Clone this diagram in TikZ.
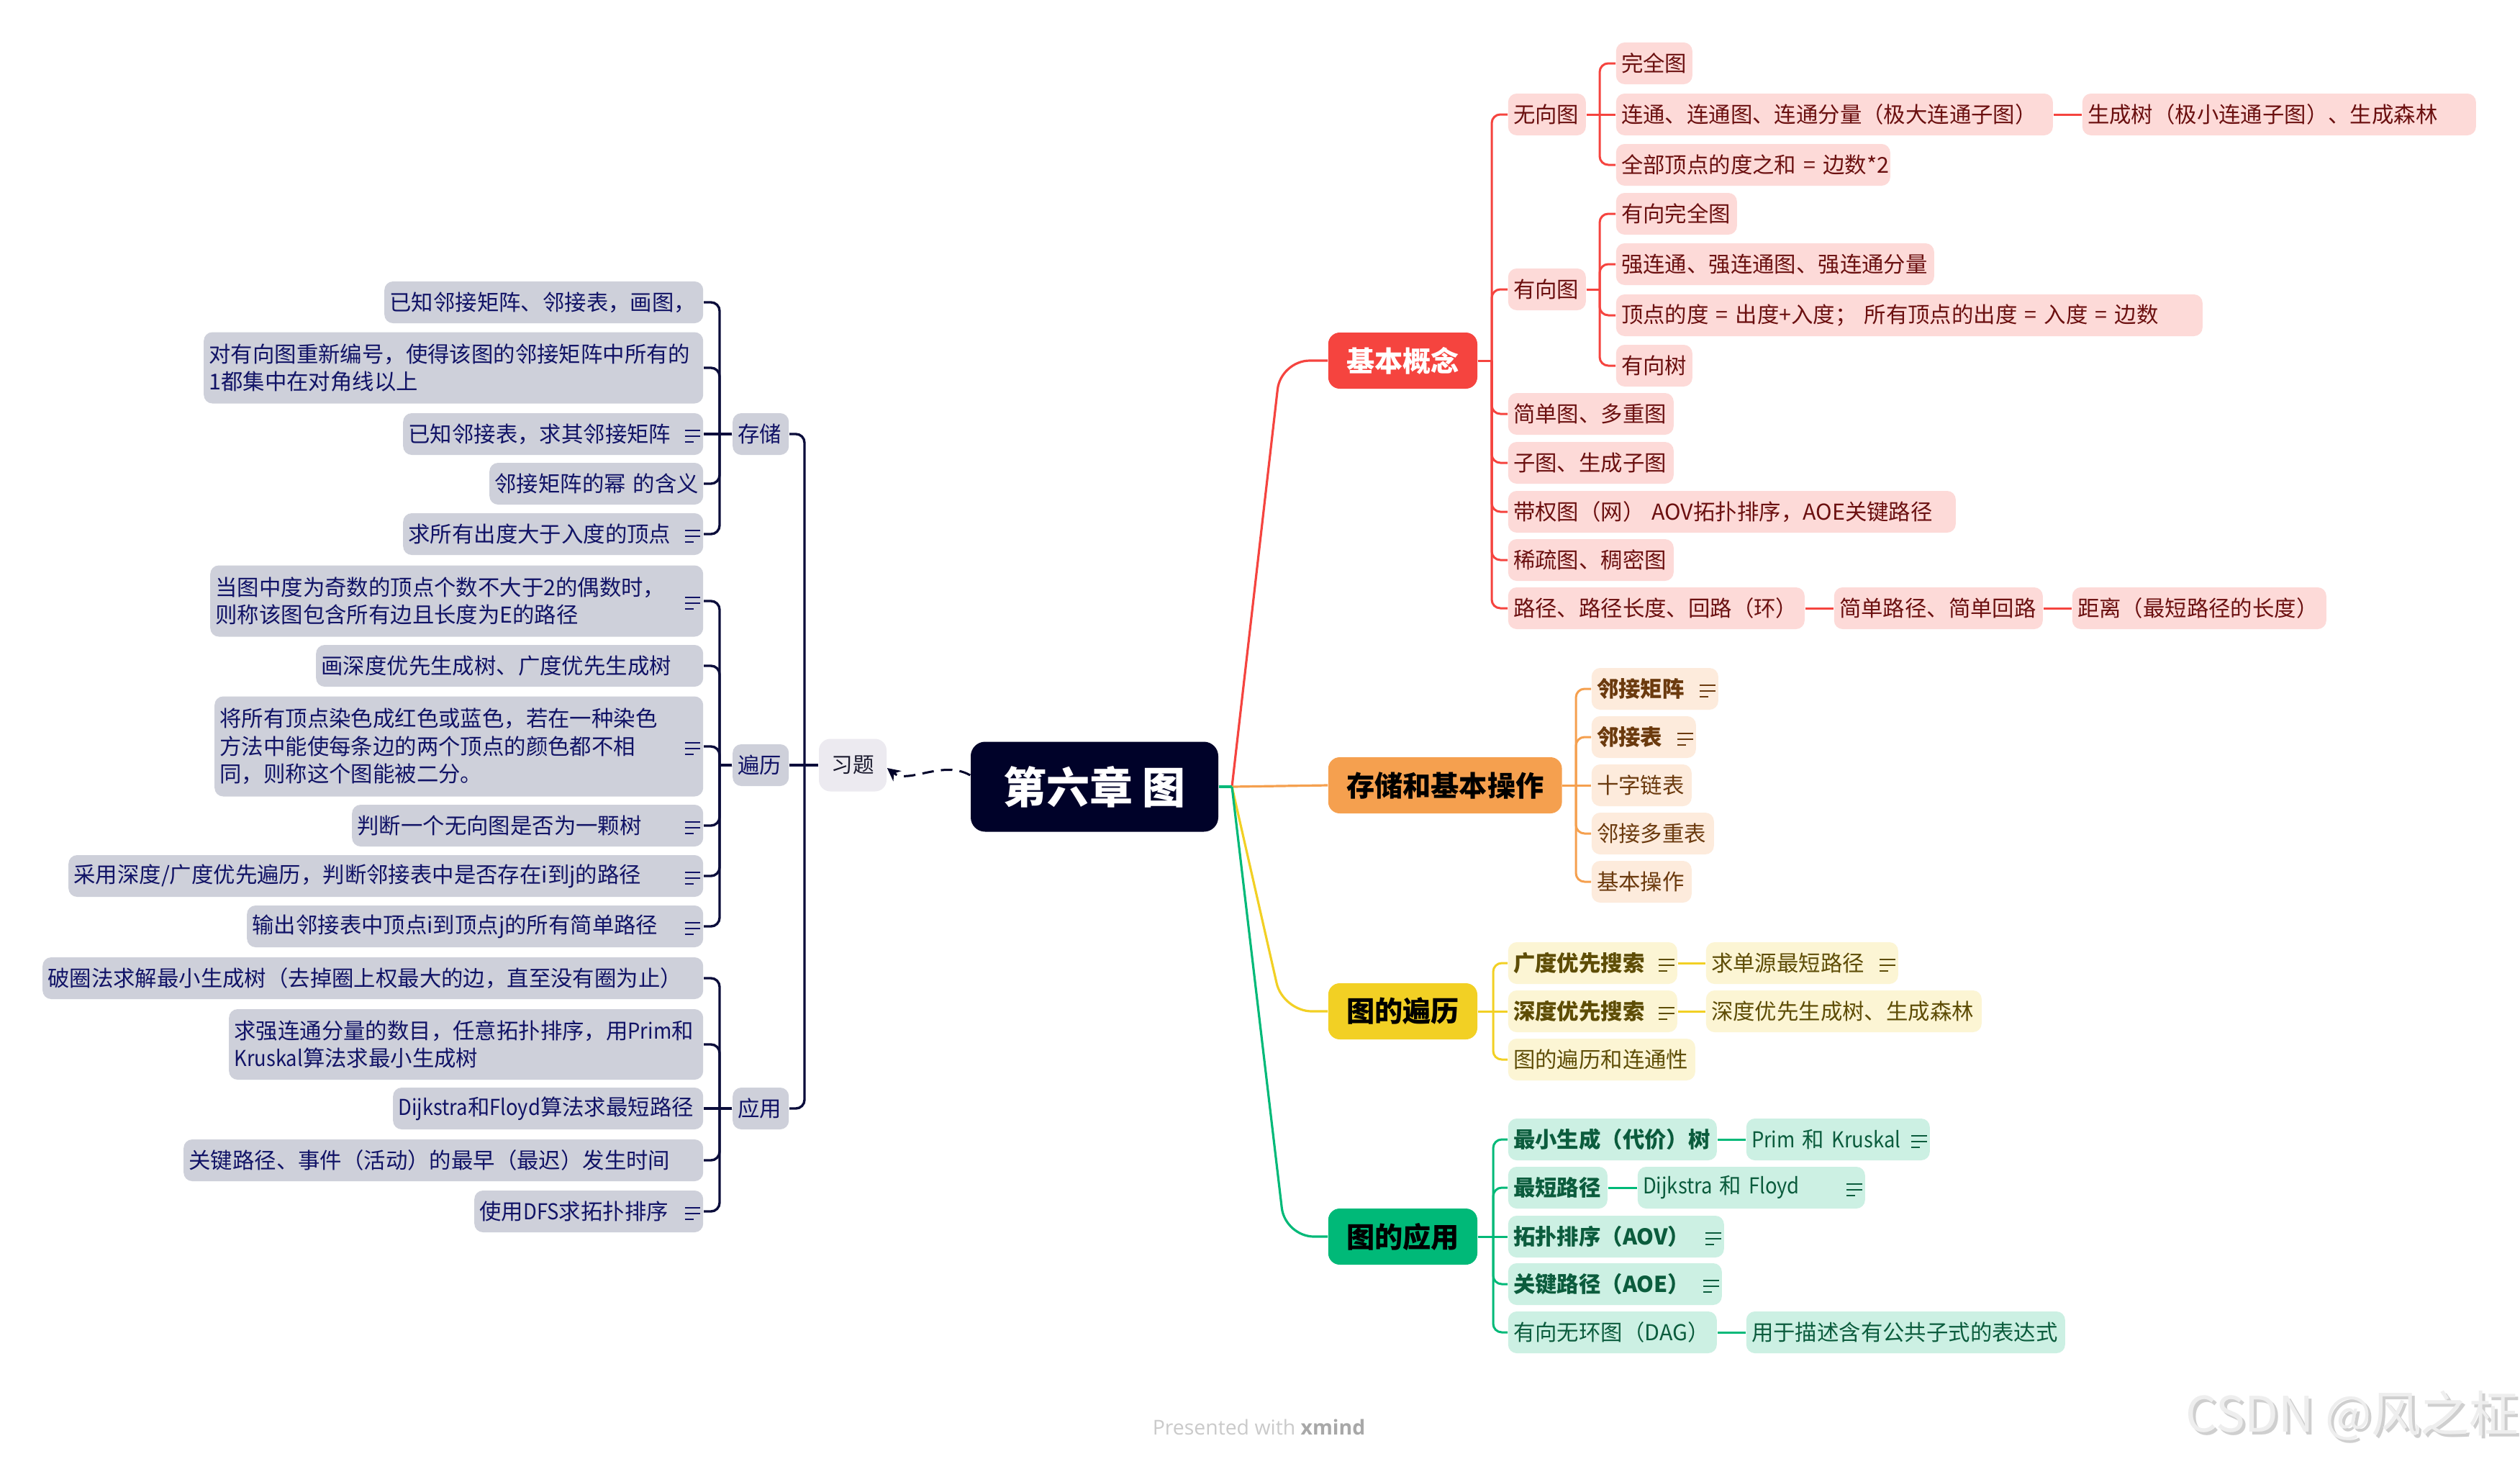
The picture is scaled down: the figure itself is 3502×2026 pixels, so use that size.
\documentclass[tikz,border=0pt]{standalone}
\usepackage{fontspec}
\setmainfont{Noto Sans CJK SC}
\newfontfamily\latinfont{Open Sans}
\newfontfamily\condlat{Noto Sans CJK SC}[FakeStretch=0.9]
\newcommand\lat[1]{{\condlat #1}}
\usetikzlibrary{arrows.meta,calc}
\definecolor{navy}{HTML}{000229}
\definecolor{redM}{HTML}{F5443F}
\definecolor{redL}{HTML}{FDDAD8}
\definecolor{redT}{HTML}{6B1010}
\definecolor{oraM}{HTML}{F5A04F}
\definecolor{oraL}{HTML}{FDEBDC}
\definecolor{oraT}{HTML}{6B3A0E}
\definecolor{yelM}{HTML}{F2D024}
\definecolor{yelL}{HTML}{FCF5D4}
\definecolor{yelT}{HTML}{5E4D06}
\definecolor{grnM}{HTML}{00B978}
\definecolor{grnL}{HTML}{CCF0E3}
\definecolor{grnT}{HTML}{0B5C3D}
\definecolor{navL}{HTML}{CED0DA}
\definecolor{navT}{HTML}{111366}
\definecolor{navLn}{HTML}{0B0D3B}
\definecolor{xiF}{HTML}{ECEAF0}
\definecolor{xiT}{HTML}{1A1A2E}
\definecolor{wmA}{HTML}{CACACA}
\definecolor{wmB}{HTML}{A8A8A8}
\definecolor{wmC}{HTML}{EEEEEE}
\definecolor{wmD}{HTML}{CFCFCF}
\newcommand\noteic[2]{\draw[#2, line width=0.55pt] ([xshift=-6.6pt,yshift=1.3pt]#1.east) -- ++(5.4pt,0pt) ([xshift=-6.6pt,yshift=-0.7pt]#1.east) -- ++(5.4pt,0pt) ([xshift=-6.6pt,yshift=-2.7pt]#1.east) -- ++(3pt,0pt);}
\newcommand\elR[4]{\draw[#1] (#2.east) -- (#2.east -| #3);\draw[#1,rounded corners=3pt] (#2.east -| #3) |- (#4.west);}
\newcommand\elL[4]{\draw[#1] (#2.west) -- (#2.west -| #3);\draw[#1,rounded corners=3pt] (#2.west -| #3) |- (#4.east);}
\begin{document}
\begin{tikzpicture}[x=0.25pt,y=-0.25pt,
  box/.style={rounded corners=3pt, inner xsep=1.8pt, inner ysep=0pt, minimum height=14.5pt, font=\fontsize{7.6}{9.6}\selectfont, align=left},
  bw/.style={text width={#1*0.25pt-3.6pt}},
  rbox/.style={box, fill=redL, text=redT, anchor=west},
  obox/.style={box, fill=oraL, text=oraT, anchor=west},
  ybox/.style={box, fill=yelL, text=yelT, anchor=west},
  gbox/.style={box, fill=grnL, text=grnT, anchor=west},
  lbox/.style={box, fill=navL, text=navT, anchor=east},
  mainbox/.style={rounded corners=4pt, inner xsep=6.3pt, inner ysep=0pt, minimum height=19.5pt, font=\fontsize{9.8}{12}\selectfont\bfseries, anchor=west},
  lnr/.style={redM, line width=0.75pt},
  lno/.style={oraM, line width=0.75pt},
  lny/.style={yelM, line width=0.75pt},
  lng/.style={grnM, line width=0.75pt},
  lnn/.style={navLn, line width=0.85pt},
  lnm/.style={line width=0.8pt, rounded corners=10pt}
]
\fill[white] (0,0) rectangle (3502,2026);
\useasboundingbox (0,0) rectangle (3502,2026);

% central
\node[fill=navy, text=white, rounded corners=5pt, minimum width=86pt, minimum height=31.25pt, inner sep=0pt, font=\fontsize{15}{18}\selectfont\bfseries] (ct) at (1521,1093) {第六章 图};

% main branches
\node[mainbox, fill=redM, text=white] (kb) at (1845,501) {基本概念};
\node[mainbox, fill=oraM, text=black] (cz) at (1845,1091) {存储和基本操作};
\node[mainbox, fill=yelM, text=black] (bl) at (1845,1405) {图的遍历};
\node[mainbox, fill=grnM, text=black] (yy) at (1845,1718) {图的应用};

% red subtree
\node[rbox,bw=108] (wx) at (2095,159) {无向图};
\node[rbox,bw=108] (yx) at (2095,402) {有向图};
\node[rbox,bw=106] (wq) at (2245,88) {完全图};
\node[rbox,bw=607] (lt) at (2245,159) {连通、连通图、连通分量（极大连通子图）};
\node[rbox,bw=547] (scs) at (2893,159) {生成树（极小连通子图）、生成森林};
\node[rbox,bw=381] (qb) at (2245,229) {全部顶点的度之和~=~边数*2};
\node[rbox,bw=168] (yxwq) at (2245,297) {有向完全图};
\node[rbox,bw=442] (qlt) at (2245,367) {强连通、强连通图、强连通分量};
\node[rbox,bw=815] (dd) at (2245,438) {顶点的度~=~出度+入度；~所有顶点的出度~=~入度~=~边数};
\node[rbox,bw=106] (yxs) at (2245,508) {有向树};
\node[rbox,bw=230] (jd) at (2095,575) {简单图、多重图};
\node[rbox,bw=230] (zt) at (2095,643) {子图、生成子图};
\node[rbox,bw=622] (dq) at (2095,711) {带权图（网）~AOV拓扑排序，AOE关键路径};
\node[rbox,bw=230] (xs) at (2095,778) {稀疏图、稠密图};
\node[rbox,bw=412] (lj) at (2095,845) {路径、路径长度、回路（环）};
\node[rbox,bw=290] (jdlj) at (2548,845) {简单路径、简单回路};
\node[rbox,bw=353] (jl) at (2879,845) {距离（最短路径的长度）};

% orange subtree
\node[obox,bw=176] (ljjz) at (2211,957) {\textbf{邻接矩阵}};
\node[obox,bw=145] (ljb) at (2211,1024) {\textbf{邻接表}};
\node[obox,bw=139] (szlb) at (2211,1091) {十字链表};
\node[obox,bw=170] (ljdc) at (2211,1158) {邻接多重表};
\node[obox,bw=139] (jbcz) at (2211,1225) {基本操作};

% yellow subtree
\node[ybox,bw=235] (gd) at (2095,1338) {\textbf{广度优先搜索}};
\node[ybox,bw=267] (qdy) at (2370,1338) {求单源最短路径};
\node[ybox,bw=235] (sd) at (2095,1405) {\textbf{深度优先搜索}};
\node[ybox,bw=383] (sdsc) at (2370,1405) {深度优先生成树、生成森林};
\node[ybox,bw=260] (bllt) at (2095,1472) {图的遍历和连通性};

% green subtree
\node[gbox,bw=290] (zxsc) at (2095,1583) {\textbf{最小生成（代价）树}};
\node[gbox,bw=255] (prim) at (2426,1583) {\lat{Prim}~和~\lat{Kruskal}};
\node[gbox,bw=138] (zdlj) at (2095,1650) {\textbf{最短路径}};
\node[gbox,bw=316] (dij) at (2275,1650) {\lat{Dijkstra}~和~\lat{Floyd}};
\node[gbox,bw=300] (tp) at (2095,1718) {\textbf{拓扑排序（AOV）}};
\node[gbox,bw=297] (gj) at (2095,1784) {\textbf{关键路径（AOE）}};
\node[gbox,bw=290] (dag) at (2095,1851) {有向无环图（DAG）};
\node[gbox,bw=443] (ms) at (2426,1851) {用于描述含有公共子式的表达式};

% left subtree
\node[fill=xiF, text=xiT, rounded corners=4pt, minimum width=23.5pt, minimum height=18.25pt, inner sep=0pt, font=\fontsize{7.4}{9}\selectfont] (xi) at (1185,1063) {习题};
\node[lbox,bw=78] (cc) at (1097,603) {存储};
\node[lbox,bw=78] (lb) at (1097,1063) {遍历};
\node[lbox,bw=78] (ly) at (1097,1540) {应用};

\node[lbox,bw=443] (c1) at (978,420) {已知邻接矩阵、邻接表，画图，};
\node[lbox,bw=694,minimum height=24.75pt] (c2) at (978,511) {对有向图重新编号，使得该图的邻接矩阵中所有的\\1都集中在对角线以上};
\node[lbox,bw=417] (c3) at (978,603) {已知邻接表，求其邻接矩阵};
\node[lbox,bw=297] (c4) at (978,672) {邻接矩阵的幂~的含义};
\node[lbox,bw=417] (c5) at (978,742) {求所有出度大于入度的顶点};

\node[lbox,bw=685,minimum height=24.75pt] (b1) at (978,835) {当图中度为奇数的顶点个数不大于2的偶数时，\\则称该图包含所有边且长度为E的路径};
\node[lbox,bw=538] (b2) at (978,925) {画深度优先生成树、广度优先生成树};
\node[lbox,bw=679,minimum height=34.75pt] (b3) at (978,1037) {将所有顶点染色成红色或蓝色，若在一种染色\\方法中能使每条边的两个顶点的颜色都不相\\同，则称这个图能被二分。};
\node[lbox,bw=488] (b4) at (978,1147) {判断一个无向图是否为一颗树};
\node[lbox,bw=882] (b5) at (978,1217) {采用深度/广度优先遍历，判断邻接表中是否存在i到j的路径};
\node[lbox,bw=634] (b6) at (978,1287) {输出邻接表中顶点i到顶点j的所有简单路径};

\node[lbox,bw=918] (a1) at (978,1359) {破圈法求解最小生成树（去掉圈上权最大的边，直至没有圈为止）};
\node[lbox,bw=659,minimum height=24.5pt] (a2) at (978,1451) {求强连通分量的数目，任意拓扑排序，用\lat{Prim}和\\\lat{Kruskal}算法求最小生成树};
\node[lbox,bw=431] (a3) at (978,1540) {\lat{Dijkstra}和\lat{Floyd}算法求最短路径};
\node[lbox,bw=722] (a4) at (978,1612) {关键路径、事件（活动）的最早（最迟）发生时间};
\node[lbox,bw=318] (a5) at (978,1683) {使用\lat{DFS}求拓扑排序};

% icons
\noteic{ljjz}{oraT}\noteic{ljb}{oraT}
\noteic{gd}{yelT}\noteic{qdy}{yelT}\noteic{sd}{yelT}
\noteic{prim}{grnT}\noteic{dij}{grnT}\noteic{tp}{grnT}\noteic{gj}{grnT}
\noteic{c3}{navT}\noteic{c5}{navT}\noteic{b1}{navT}\noteic{b3}{navT}\noteic{b4}{navT}\noteic{b5}{navT}\noteic{b6}{navT}\noteic{a5}{navT}

% trunk coordinates
\coordinate (hub) at (1712,1093);
\coordinate (kA) at (1780,501);
\coordinate (kC) at (1783,1405);
\coordinate (kD) at (1786,1718);
\coordinate (tA) at (2073,0);
\coordinate (tA1) at (2223,0);
\coordinate (tB) at (2190,0);
\coordinate (tC) at (2075,0);
\coordinate (tL) at (1118,0);
\coordinate (tL2) at (1000,0);

% main connectors
\draw[redM, lnm] (hub) -- (kA) -- (kb.west);
\draw[oraM, line width=0.8pt] (hub) -- (cz.west);
\draw[yelM, lnm] (hub) -- (kC) -- (bl.west);
\draw[grnM, lnm] (hub) -- (kD) -- (yy.west);
\draw[grnM, line width=0.8pt] (ct.east) -- (hub);

% red connectors
\elR{lnr}{kb}{tA}{wx}\elR{lnr}{kb}{tA}{yx}\elR{lnr}{kb}{tA}{jd}\elR{lnr}{kb}{tA}{zt}
\elR{lnr}{kb}{tA}{dq}\elR{lnr}{kb}{tA}{xs}\elR{lnr}{kb}{tA}{lj}
\elR{lnr}{wx}{tA1}{wq}\draw[lnr] (wx.east) -- (lt.west);\elR{lnr}{wx}{tA1}{qb}
\draw[lnr] (lt.east) -- (scs.west);
\elR{lnr}{yx}{tA1}{yxwq}\elR{lnr}{yx}{tA1}{qlt}\elR{lnr}{yx}{tA1}{dd}\elR{lnr}{yx}{tA1}{yxs}
\draw[lnr] (lj.east) -- (jdlj.west);
\draw[lnr] (jdlj.east) -- (jl.west);

% orange connectors
\elR{lno}{cz}{tB}{ljjz}\elR{lno}{cz}{tB}{ljb}\draw[lno] (cz.east) -- (szlb.west);
\elR{lno}{cz}{tB}{ljdc}\elR{lno}{cz}{tB}{jbcz}

% yellow connectors
\elR{lny}{bl}{tC}{gd}\draw[lny] (bl.east) -- (sd.west);\elR{lny}{bl}{tC}{bllt}
\draw[lny] (gd.east) -- (qdy.west);
\draw[lny] (sd.east) -- (sdsc.west);

% green connectors
\elR{lng}{yy}{tC}{zxsc}\elR{lng}{yy}{tC}{zdlj}\draw[lng] (yy.east) -- (tp.west);
\elR{lng}{yy}{tC}{gj}\elR{lng}{yy}{tC}{dag}
\draw[lng] (zxsc.east) -- (prim.west);
\draw[lng] (zdlj.east) -- (dij.west);
\draw[lng] (dag.east) -- (ms.west);

% left connectors
\draw[lnn] (xi.west) -- (lb.east);
\elL{lnn}{xi}{tL}{cc}\elL{lnn}{xi}{tL}{ly}
\elL{lnn}{cc}{tL2}{c1}\elL{lnn}{cc}{tL2}{c2}\draw[lnn] (cc.west) -- (c3.east);
\elL{lnn}{cc}{tL2}{c4}\elL{lnn}{cc}{tL2}{c5}
\elL{lnn}{lb}{tL2}{b1}\elL{lnn}{lb}{tL2}{b2}\elL{lnn}{lb}{tL2}{b3}
\elL{lnn}{lb}{tL2}{b4}\elL{lnn}{lb}{tL2}{b5}\elL{lnn}{lb}{tL2}{b6}
\elL{lnn}{ly}{tL2}{a1}\elL{lnn}{ly}{tL2}{a2}\draw[lnn] (ly.west) -- (a3.east);
\elL{lnn}{ly}{tL2}{a4}\elL{lnn}{ly}{tL2}{a5}

% dashed relation
\draw[navy, line width=0.75pt, dash pattern=on 4pt off 2.5pt, -{Stealth[length=4.5pt,width=4.5pt]}] ([yshift=4pt]ct.west) .. controls (1310,1055) and (1262,1090) .. ([yshift=-1pt]xi.east);

% watermarks
\node[anchor=west, inner sep=0pt, text=wmA, font=\latinfont\fontsize{7.1}{8.5}\selectfont] (wm1) at (1601,1983) {Presented with {\color{wmB}\bfseries xmind}};
\node[anchor=west, inner sep=0pt, text=wmD, font=\fontsize{17}{20}\selectfont] (wm2) at (3041,1971) {CSDN @风之柾};
\node[anchor=west, inner sep=0pt, text=wmC, font=\fontsize{17}{20}\selectfont] (wm3) at (3037,1967) {CSDN @风之柾};
\end{tikzpicture}
\end{document}
